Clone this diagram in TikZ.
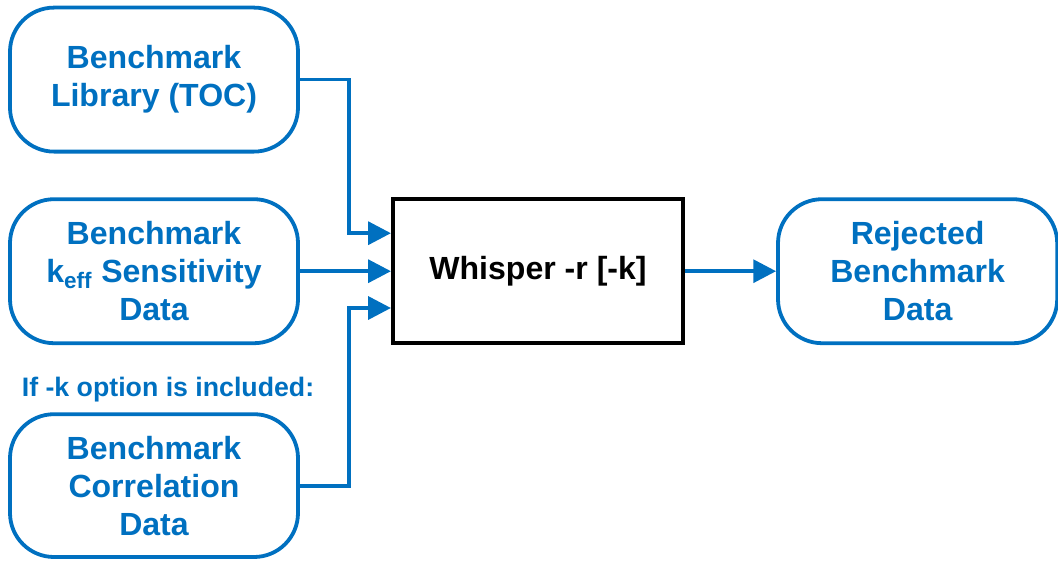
\documentclass[tikz,border=0pt]{standalone}
\usepackage{fontspec}
\setmainfont{Liberation Sans}
\usetikzlibrary{positioning, arrows.meta, calc}
\definecolor{flowblue}{RGB}{0, 112, 192}
\definecolor{boxline}{RGB}{0, 0, 0}
\tikzset{
  databox/.style={draw=flowblue, line width=2.7pt, rounded corners=1.1cm, minimum width=7.2cm, minimum height=3.6cm, align=center, text=flowblue, font=\bfseries\fontsize{22.8}{27}\selectfont},
  procbox/.style={draw=boxline, line width=2.9pt, minimum width=7.25cm, minimum height=3.6cm, align=center, font=\bfseries\fontsize{22.8}{27}\selectfont},
  feed/.style={draw=flowblue, line width=2.7pt, -{Triangle[length=0.57cm, width=0.57cm]}}
}

\begin{document}
\begin{tikzpicture}
    \useasboundingbox (0,0) rectangle (26.45,-14);
    % Inputs
    \node[databox] (lib) at (3.85,-1.99) {Benchmark\\Library (TOC)};
    \node[databox] (sens) at (3.85,-6.78) {Benchmark\\k\textsubscript{eff} Sensitivity\\Data};
    \node[databox, minimum height=3.57cm] (corr) at (3.85,-12.14) {Benchmark\\Correlation\\Data};
    \node[text=flowblue, font=\bfseries\fontsize{19}{23}\selectfont] (optnote) at (4.2,-9.75) {If -k option is included:};

    % Process and output
    \node[procbox] (whisper) at (13.45,-6.78) {Whisper -r [-k]};
    \node[databox, minimum width=6.98cm] (rejected) at (22.94,-6.78) {Rejected\\Benchmark\\Data};

    % Connectors
    \draw[feed] (lib.east) -- ++(1.225,0) |- ([yshift=0.95cm]whisper.west);
    \draw[feed] (sens.east) -- (whisper.west);
    \draw[feed] (corr.east) -- ++(1.225,0) |- ([yshift=-0.92cm]whisper.west);
    \draw[feed] (whisper.east) -- (rejected.west);
\end{tikzpicture}
\end{document}
